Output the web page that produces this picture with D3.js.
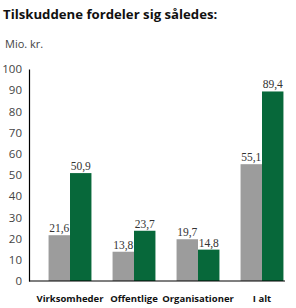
<!DOCTYPE html>
<html><head><meta charset="utf-8">
<script src="https://cdn.jsdelivr.net/npm/d3@7"></script>
<style>body{margin:0;background:#fff}svg{display:block}</style>
</head><body>
<svg id="c" width="296" height="308"></svg>
<script>
const categories = ["Virksomheder", "Offentlige", "Organisationer", "I alt"];
const seriesA = [21.6, 13.8, 19.7, 55.1];
const seriesB = [50.9, 23.7, 14.8, 89.4];
const yTicks = [0,10,20,30,40,50,60,70,80,90,100];
const title = "Tilskuddene fordeler sig således:";
const unit = "Mio. kr.";

const svg = d3.select("#c");
const y = d3.scaleLinear().domain([0,100]).range([281,69]);
const x = d3.scaleBand().domain(categories).range([38,294]).paddingInner(0.33).paddingOuter(0.165);
const x1 = d3.scaleBand().domain(["a","b"]).range([0, x.bandwidth()]);
const fmt = v => String(v).replace(".", ",");

svg.append("text").attr("x",3).attr("y",19).attr("font-family","Open Sans, sans-serif")
  .attr("font-weight","bold").attr("font-size",13.2).attr("fill","#111").text(title);
svg.append("text").attr("x",5).attr("y",48).attr("font-family","Open Sans, sans-serif")
  .attr("font-size",11).attr("fill","#444").text(unit);

// y axis
const yAxis = d3.axisLeft(y).tickValues(yTicks).tickSize(0).tickPadding(7);
const ga = svg.append("g").attr("transform","translate(29,0)").call(yAxis);
ga.select(".domain").attr("stroke","#000").attr("stroke-width",1.2);
ga.selectAll("text").attr("font-family","Open Sans, sans-serif").attr("font-size",11.5).attr("fill","#444");

// bars
const groups = svg.append("g").selectAll("g").data(categories).join("g")
  .attr("transform", d => `translate(${x(d)},0)`);
const vals = categories.map((c,i)=>[{k:"a",v:seriesA[i]},{k:"b",v:seriesB[i]}]);
groups.each(function(c,i){
  const g = d3.select(this);
  g.selectAll("rect").data(vals[i]).join("rect")
    .attr("x", d=>x1(d.k)).attr("width", x1.bandwidth())
    .attr("y", d=>y(d.v)).attr("height", d=>y(0)-y(d.v))
    .attr("fill", d=>d.k==="a" ? "#9c9c9c" : "#07683a");
  g.selectAll("text.v").data(vals[i]).join("text").attr("class","v")
    .attr("x", d=>x1(d.k)+x1.bandwidth()/2).attr("y", d=>y(d.v)-3)
    .attr("text-anchor","middle").attr("font-family","Liberation Serif, serif")
    .attr("font-size",11.5).attr("fill","#333").text(d=>fmt(d.v));
});

// baseline
svg.append("line").attr("x1",29).attr("x2",285).attr("y1",y(0)).attr("y2",y(0))
  .attr("stroke","#000").attr("stroke-width",1.2);

// x labels
svg.append("g").selectAll("text").data(categories).join("text")
  .attr("x", d=>x(d)+x.bandwidth()/2).attr("y",302).attr("text-anchor","middle")
  .attr("font-family","Open Sans, sans-serif").attr("font-weight","bold")
  .attr("font-size",9.5).attr("fill","#111").text(d=>d);
</script>
</body></html>
